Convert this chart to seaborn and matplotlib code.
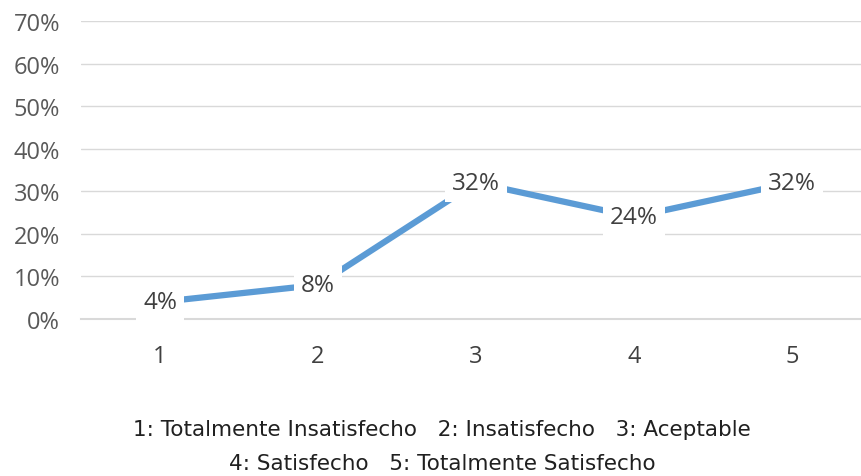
import matplotlib
matplotlib.use("Agg")
import matplotlib.pyplot as plt
import seaborn as sns
import pandas as pd

niveles = [1, 2, 3, 4, 5]
porcentajes = [0.04, 0.08, 0.32, 0.24, 0.32]
etiquetas = ['4%', '8%', '32%', '24%', '32%']
leyenda = ['1: Totalmente Insatisfecho   2: Insatisfecho   3: Aceptable',
           '4: Satisfecho   5: Totalmente Satisfecho']

sns.set_theme(style="white")
plt.rcParams['font.family'] = ['Open Sans', 'DejaVu Sans']

df = pd.DataFrame({'nivel': [str(n) for n in niveles], 'pct': porcentajes})

fig = plt.figure(figsize=(8.61, 4.77), dpi=100)
ax = fig.add_axes([81/861, 1 - 320/477, 790/861, 298/477])

sns.lineplot(data=df, x='nivel', y='pct', ax=ax, color='#5B9BD5',
             linewidth=4.5, sort=False, solid_capstyle='butt')

# etiquetas de datos con fondo blanco (tapan la linea como en Excel)
for i, (v, t) in enumerate(zip(porcentajes, etiquetas)):
    ax.text(i, v, t, ha='center', va='center', fontsize=17.5, color='#404040',
            bbox=dict(facecolor='white', edgecolor='none', pad=5))

ax.set_xlim(-0.5, 4.5)
ax.set_ylim(0, 0.7)
ax.set_yticks([i / 10 for i in range(8)])
ax.set_yticklabels([f'{i*10}%' for i in range(8)])
ax.yaxis.grid(True, color='#D9D9D9', linewidth=1)
ax.set_axisbelow(True)
for s in ['top', 'right', 'left']:
    ax.spines[s].set_visible(False)
ax.spines['bottom'].set_color('#D9D9D9')
ax.spines['bottom'].set_linewidth(1.5)
ax.tick_params(axis='y', labelsize=17, labelcolor='#595959', length=0, pad=15)
ax.tick_params(axis='x', labelsize=17, labelcolor='#404040', length=0, pad=18)
ax.set_xlabel('')
ax.set_ylabel('')

fig.text(442/861, 1 - 430/477, leyenda[0], ha='center', va='center',
         fontsize=15.5, color='#202020', family=['Liberation Sans Narrow', 'DejaVu Sans'])
fig.text(442/861, 1 - 464/477, leyenda[1], ha='center', va='center',
         fontsize=15.5, color='#202020', family=['Liberation Sans Narrow', 'DejaVu Sans'])

fig.savefig('out.png', dpi=100)
